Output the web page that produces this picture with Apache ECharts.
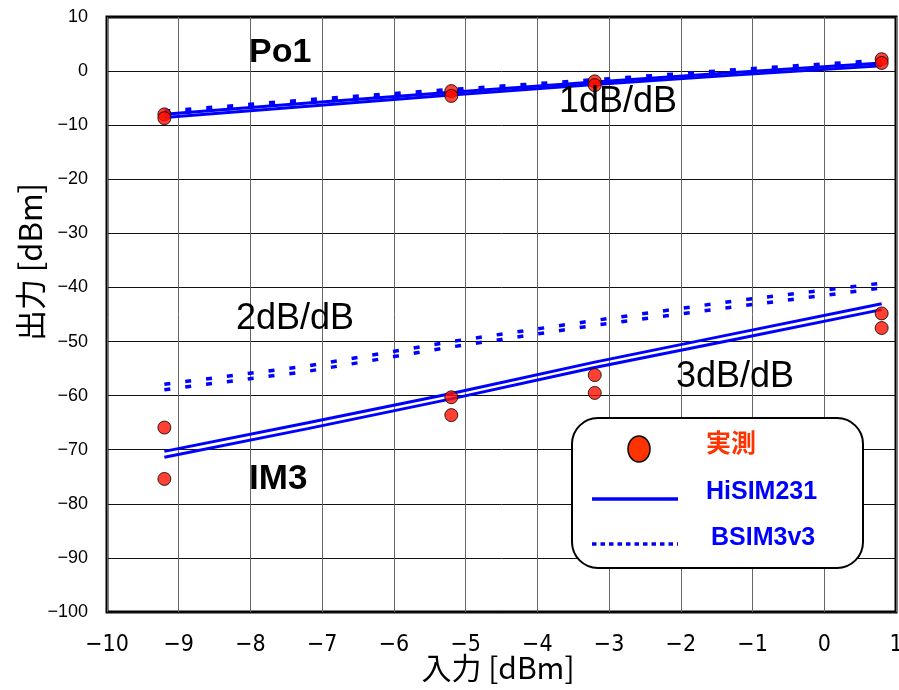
<!DOCTYPE html>
<html><head><meta charset="utf-8">
<script src="https://cdn.jsdelivr.net/npm/echarts@6/dist/echarts.min.js"></script>
<style>html,body{margin:0;padding:0;background:#fff;overflow:hidden}#c{width:899px;height:690px}</style>
</head><body><div id="c"></div>
<script>
const measX = [-9.2, -9.2, -5.2, -5.2, -3.2, -3.2, 0.8, 0.8];
const measPo1 = [-8.0, -8.7, -3.7, -4.6, -1.9, -2.6, 2.2, 1.5];
const measIM3 = [-65.9, -75.4, -60.3, -63.6, -56.2, -59.5, -44.8, -47.5];

const simX = [-9.2, -7.2, -5.2, -3.2, -1.2, 0.8];
const hisimPo1A = [-8.0, -5.9, -3.9, -2.0, -0.2, 1.5];
const hisimPo1B = [-8.6, -6.5, -4.4, -2.5, -0.7, 1.0];
const bsimPo1A = [-7.4, -5.3, -3.4, -1.6, 0.3, 2.0];
const bsimPo1B = [-7.9, -5.8, -3.9, -2.1, -0.2, 1.5];
const hisimIM3A = [-70.3, -65.0, -59.6, -53.8, -48.4, -43.0];
const hisimIM3B = [-71.4, -66.1, -60.6, -54.8, -49.5, -44.1];
const bsimIM3A = [-57.9, -54.5, -50.0, -46.1, -42.4, -39.2];
const bsimIM3B = [-58.9, -55.5, -51.0, -47.0, -43.5, -40.1];

const xTicks = [-10, -9, -8, -7, -6, -5, -4, -3, -2, -1, 0, 1];
const yTicks = [10, 0, -10, -20, -30, -40, -50, -60, -70, -80, -90, -100];

const zip = (xs, ys) => xs.map((x, i) => [x, ys[i]]);
const fmt = v => (v < 0 ? '\u2212' + Math.abs(v) : String(v));
const BLUE = '#0000ff';

function lineSeries(name, ys, dashed) {
  return {
    type: 'line', name, data: zip(simX, ys), showSymbol: false, silent: true,
    lineStyle: dashed ? { color: BLUE, width: 3.5, type: [6, 15], cap: 'butt' } : { color: BLUE, width: 3 },
    z: 3
  };
}

const chart = echarts.init(document.getElementById('c'));
chart.setOption({
  animation: false,
  grid: { left: 107, right: 3, top: 17, bottom: 78, outerBoundsMode: 'none', containLabel: false,
          show: true, borderColor: '#000', borderWidth: 3 },
  xAxis: {
    type: 'value', min: -10, max: 1, interval: 1,
    axisLine: { show: false }, axisTick: { show: false },
    splitLine: { show: true, lineStyle: { color: '#666', width: 1 } },
    axisLabel: { formatter: fmt, fontSize: 23, color: '#000', margin: 22, fontFamily: "'Liberation Sans Narrow', 'DejaVu Sans Condensed', sans-serif" }
  },
  yAxis: {
    type: 'value', min: -100, max: 10, interval: 10,
    axisLine: { show: false }, axisTick: { show: false },
    splitLine: { show: true, lineStyle: { color: '#111', width: 1 } },
    axisLabel: { formatter: fmt, fontSize: 18, color: '#000', margin: 19, fontFamily: "'Liberation Sans', Arial, sans-serif" }
  },
  series: [
    lineSeries('BSIM3v3 Po1 a', bsimPo1A, true),
    lineSeries('BSIM3v3 Po1 b', bsimPo1B, true),
    lineSeries('HiSIM231 Po1 a', hisimPo1A, false),
    lineSeries('HiSIM231 Po1 b', hisimPo1B, false),
    lineSeries('BSIM3v3 IM3 a', bsimIM3A, true),
    lineSeries('BSIM3v3 IM3 b', bsimIM3B, true),
    lineSeries('HiSIM231 IM3 a', hisimIM3A, false),
    lineSeries('HiSIM231 IM3 b', hisimIM3B, false),
    { type: 'scatter', name: '実測 Po1', data: zip(measX, measPo1), symbolSize: 13, z: 5,
      itemStyle: { color: '#ff1000', borderColor: '#000', borderWidth: 1 } },
    { type: 'scatter', name: '実測 IM3', data: zip(measX, measIM3), symbolSize: 13, z: 5,
      itemStyle: { color: '#ff1000', borderColor: '#000', borderWidth: 1 } }
  ],
  graphic: [
    { type: 'text', x: 30, y: 262, rotation: Math.PI / 2, z: 10,
      style: { text: '出力 [dBm]', font: "31px 'Noto Sans CJK JP', sans-serif", fill: '#000', align: 'center', verticalAlign: 'middle' } },
    { type: 'text', x: 498, y: 668, z: 10,
      style: { text: '入力 [dBm]', font: "30px 'Noto Sans CJK JP', sans-serif", fill: '#000', align: 'center', verticalAlign: 'middle' } },
    { type: 'text', x: 249, y: 53, z: 10, style: { text: 'Po1', font: "bold 34px 'Liberation Sans', Arial, sans-serif", fill: '#000', verticalAlign: 'middle' } },
    { type: 'text', x: 559, y: 102, z: 10, style: { text: '1dB/dB', font: "36px 'Liberation Sans', Arial, sans-serif", fill: '#000', verticalAlign: 'middle' } },
    { type: 'text', x: 236, y: 319, z: 10, style: { text: '2dB/dB', font: "36px 'Liberation Sans', Arial, sans-serif", fill: '#000', verticalAlign: 'middle' } },
    { type: 'text', x: 676, y: 377, z: 10, style: { text: '3dB/dB', font: "36px 'Liberation Sans', Arial, sans-serif", fill: '#000', verticalAlign: 'middle' } },
    { type: 'text', x: 249, y: 479, z: 10, style: { text: 'IM3', font: "bold 35px 'Liberation Sans', Arial, sans-serif", fill: '#000', verticalAlign: 'middle' } },
    { type: 'rect', z: 20, shape: { x: 572, y: 418, width: 291, height: 150, r: 26 },
      style: { fill: '#fff', stroke: '#000', lineWidth: 2 } },
    { type: 'ellipse', z: 21, shape: { cx: 639, cy: 449, rx: 11, ry: 13 },
      style: { fill: '#ff3300', stroke: '#000', lineWidth: 1.5 } },
    { type: 'text', z: 21, x: 706, y: 442, style: { text: '実測', font: "bold 25px 'Noto Sans CJK JP', sans-serif", fill: '#ff3300', verticalAlign: 'middle' } },
    { type: 'line', z: 21, shape: { x1: 592, y1: 499, x2: 678, y2: 499 }, style: { stroke: BLUE, lineWidth: 3.5 } },
    { type: 'text', z: 21, x: 706, y: 492, style: { text: 'HiSIM231', font: "bold 25px 'Liberation Sans', Arial, sans-serif", fill: BLUE, verticalAlign: 'middle' } },
    { type: 'line', z: 21, shape: { x1: 592, y1: 544, x2: 678, y2: 544 }, style: { stroke: BLUE, lineWidth: 3.5, lineDash: [4.5, 4] } },
    { type: 'text', z: 21, x: 711, y: 538, style: { text: 'BSIM3v3', font: "bold 25px 'Liberation Sans', Arial, sans-serif", fill: BLUE, verticalAlign: 'middle' } }
  ]
});
</script></body></html>
